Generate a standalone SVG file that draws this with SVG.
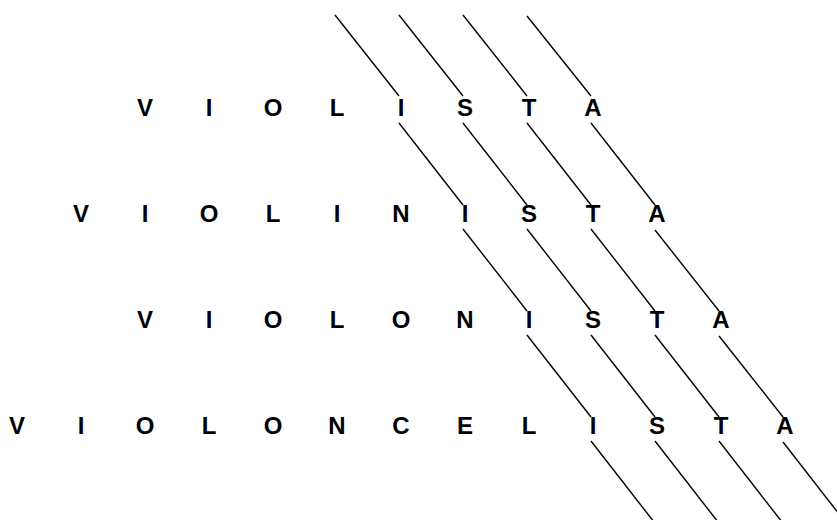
<svg xmlns="http://www.w3.org/2000/svg" width="837" height="520" viewBox="0 0 837 520">
<style>
text { font-family: "Liberation Sans", Arial, sans-serif; font-weight: bold; font-size: 24px; fill: #000; text-anchor: middle; }
line { stroke: #000; stroke-width: 1.4; }
</style>
<rect width="837" height="520" fill="#fff"/>
<g id="connectors">
  <line x1="335" y1="15" x2="399" y2="96"/>
  <line x1="399" y1="15" x2="463" y2="96"/>
  <line x1="463" y1="15" x2="527" y2="96"/>
  <line x1="527" y1="16" x2="591" y2="96"/>
  <line x1="399" y1="123" x2="463" y2="205"/>
  <line x1="463" y1="123" x2="527" y2="205"/>
  <line x1="527" y1="123" x2="591" y2="205"/>
  <line x1="591" y1="123" x2="655" y2="205"/>
  <line x1="463" y1="229" x2="527" y2="311"/>
  <line x1="527" y1="229" x2="591" y2="311"/>
  <line x1="591" y1="229" x2="655" y2="311"/>
  <line x1="655" y1="230" x2="719" y2="311"/>
  <line x1="527" y1="335" x2="591" y2="417"/>
  <line x1="591" y1="335" x2="655" y2="417"/>
  <line x1="655" y1="335" x2="719" y2="417"/>
  <line x1="719" y1="336" x2="783" y2="417"/>
  <line x1="591" y1="441" x2="654" y2="522"/>
  <line x1="655" y1="441" x2="718" y2="522"/>
  <line x1="719" y1="441" x2="782" y2="522"/>
  <line x1="783" y1="442" x2="846" y2="523"/>
</g>
<g id="violista">
  <text x="145" y="116">V</text><text x="209" y="116">I</text><text x="273" y="116">O</text><text x="337" y="116">L</text><text x="401" y="116">I</text><text x="465" y="116">S</text><text x="529" y="116">T</text><text x="593" y="116">A</text>
</g>
<g id="violinista">
  <text x="81" y="222">V</text><text x="145" y="222">I</text><text x="209" y="222">O</text><text x="273" y="222">L</text><text x="337" y="222">I</text><text x="401" y="222">N</text><text x="465" y="222">I</text><text x="529" y="222">S</text><text x="593" y="222">T</text><text x="657" y="222">A</text>
</g>
<g id="violonista">
  <text x="145" y="328">V</text><text x="209" y="328">I</text><text x="273" y="328">O</text><text x="337" y="328">L</text><text x="401" y="328">O</text><text x="465" y="328">N</text><text x="529" y="328">I</text><text x="593" y="328">S</text><text x="657" y="328">T</text><text x="721" y="328">A</text>
</g>
<g id="violoncelista">
  <text x="17" y="434">V</text><text x="81" y="434">I</text><text x="145" y="434">O</text><text x="209" y="434">L</text><text x="273" y="434">O</text><text x="337" y="434">N</text><text x="401" y="434">C</text><text x="465" y="434">E</text><text x="529" y="434">L</text><text x="593" y="434">I</text><text x="657" y="434">S</text><text x="721" y="434">T</text><text x="785" y="434">A</text>
</g>
</svg>
